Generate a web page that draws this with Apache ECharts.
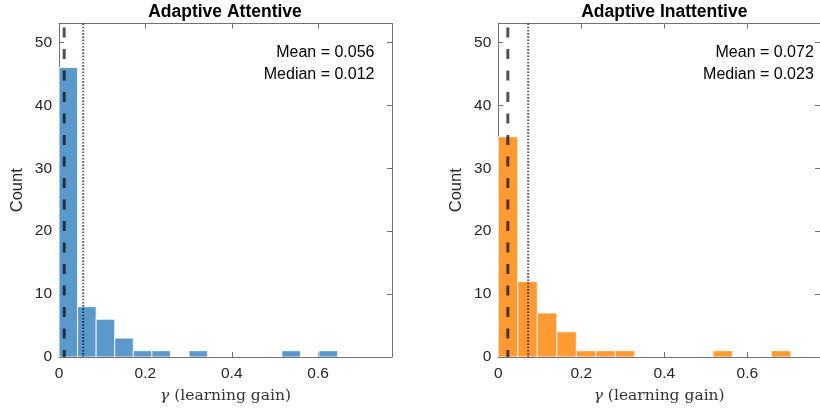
<!DOCTYPE html>
<html>
<head>
<meta charset="utf-8">
<script src="https://cdn.jsdelivr.net/npm/echarts@6/dist/echarts.min.js"></script>
<style>
  html, body { margin: 0; padding: 0; background: #fff; }
  #chart { width: 820px; height: 411px; }
</style>
</head>
<body>
<div id="chart"></div>
<script>
// Histogram counts per bin (bins start at 0, fixed width per panel)
const panelTitles = ['Adaptive Attentive', 'Adaptive Inattentive'];
const attentiveCounts = [46, 8, 6, 3, 1, 1, 0, 1, 0, 0, 0, 0, 1, 0, 1];
const inattentiveCounts = [35, 12, 7, 4, 1, 1, 1, 0, 0, 0, 0, 1, 0, 0, 1];
const attentiveBinWidth = 0.043;
const inattentiveBinWidth = 0.047;
const attentiveMean = 0.056;
const attentiveMedian = 0.012;
const inattentiveMean = 0.072;
const inattentiveMedian = 0.023;
const xTicks = [0, 0.2, 0.4, 0.6];
const yTicks = [0, 10, 20, 30, 40, 50];
const xMax = [0.771, 0.775];
const yMax = 53;

const SANS = '"Liberation Sans", Arial, Helvetica, sans-serif';
const SERIF = '"DejaVu Serif", "Liberation Serif", serif';
const AXIS_COLOR = '#707070';
const TEXT_COLOR = '#262626';

const panels = [
  { counts: attentiveCounts, width: attentiveBinWidth, mean: attentiveMean, median: attentiveMedian, color: '#5B99CC' },
  { counts: inattentiveCounts, width: inattentiveBinWidth, mean: inattentiveMean, median: inattentiveMedian, color: '#FF9A33' }
];

const gridLayout = [
  { left: 59, top: 23.5, width: 333, height: 333.5 },
  { left: 498.3, top: 23.5, width: 333, height: 333.5 }
];

function binData(counts, w) {
  return counts.map((c, i) => [i * w, (i + 1) * w, c]);
}

const xAxes = [], yAxes = [], series = [], graphics = [];

panels.forEach((p, k) => {
  const baseX = {
    type: 'value', gridIndex: k, min: 0, max: xMax[k],
    splitLine: { show: false },
    axisLine: { show: true, onZero: false, lineStyle: { color: AXIS_COLOR, width: 1 } },
    axisTick: { show: true, inside: true, length: 5, customValues: xTicks, lineStyle: { color: AXIS_COLOR } }
  };
  xAxes.push(Object.assign({}, baseX, {
    position: 'bottom',
    axisLabel: { show: true, customValues: xTicks, margin: 9, fontFamily: SANS, fontSize: 15.5, color: TEXT_COLOR,
      formatter: v => String(+v.toFixed(1)) },
    name: '{g|γ} (learning gain)',
    nameLocation: 'middle', nameGap: 31,
    nameTextStyle: { fontFamily: SERIF, fontSize: 15.5, color: '#333',
      rich: { g: { fontFamily: SERIF, fontSize: 15.5, fontStyle: 'italic', color: '#333' } } }
  }));
  xAxes.push(Object.assign({}, baseX, { position: 'top', axisLabel: { show: false } }));

  const baseY = {
    type: 'value', gridIndex: k, min: 0, max: yMax,
    splitLine: { show: false },
    axisLine: { show: true, onZero: false, lineStyle: { color: AXIS_COLOR, width: 1 } },
    axisTick: { show: true, inside: true, length: 5, customValues: yTicks, lineStyle: { color: AXIS_COLOR } }
  };
  yAxes.push(Object.assign({}, baseY, {
    position: 'left',
    axisLabel: { show: true, customValues: yTicks, margin: 7, fontFamily: SANS, fontSize: 15.5, color: TEXT_COLOR },
    name: 'Count', nameLocation: 'middle', nameGap: 33, nameRotate: 90,
    nameTextStyle: { fontFamily: SANS, fontSize: 16.5, color: TEXT_COLOR }
  }));
  yAxes.push(Object.assign({}, baseY, { position: 'right', axisLabel: { show: false } }));

  const xi = k * 2, yi = k * 2;

  series.push({
    type: 'custom', xAxisIndex: xi, yAxisIndex: yi, clip: true, z: 2,
    data: binData(p.counts, p.width),
    renderItem: (params, api) => {
      const c = api.value(2);
      if (!c) return null;
      const a = api.coord([api.value(0), c]);
      const b = api.coord([api.value(1), 0]);
      return {
        type: 'rect',
        shape: { x: a[0], y: a[1], width: b[0] - a[0], height: b[1] - a[1] },
        style: { fill: p.color, stroke: 'rgba(255,255,255,0.85)', lineWidth: 1 }
      };
    }
  });

  // median (dashed) and mean (dotted) reference lines
  series.push({
    type: 'line', xAxisIndex: xi, yAxisIndex: yi, z: 4, symbol: 'none', silent: true,
    data: [[p.median, yMax], [p.median, 0]],
    lineStyle: { color: 'rgba(0,0,0,0.68)', width: 3, type: [10, 11.5], dashOffset: 17.5 }
  });
  series.push({
    type: 'line', xAxisIndex: xi, yAxisIndex: yi, z: 4, symbol: 'none', silent: true,
    data: [[p.mean, yMax], [p.mean, 0]],
    lineStyle: { color: 'rgba(0,0,0,0.65)', width: 2, type: [1.6, 1.6] }
  });

  const g = gridLayout[k];
  graphics.push({
    type: 'text', x: g.left + g.width / 2 - 0.5, y: 12.5,
    style: { text: panelTitles[k], font: 'bold 17.5px ' + SANS, fill: '#000', align: 'center', verticalAlign: 'middle' }
  });
  const tx = g.left + 315.5;
  graphics.push({
    type: 'text', x: tx, y: 53,
    style: { text: 'Mean = ' + p.mean.toFixed(3), font: '16px ' + SANS, fill: '#000', align: 'right', verticalAlign: 'middle' }
  });
  graphics.push({
    type: 'text', x: tx, y: 75,
    style: { text: 'Median = ' + p.median.toFixed(3), font: '16px ' + SANS, fill: '#000', align: 'right', verticalAlign: 'middle' }
  });
});

const chart = echarts.init(document.getElementById('chart'), null, { renderer: 'canvas' });
chart.setOption({
  animation: false,
  backgroundColor: '#fff',
  grid: gridLayout.map(g => Object.assign({ containLabel: false, show: false }, g)),
  xAxis: xAxes,
  yAxis: yAxes,
  series: series,
  graphic: graphics
});
</script>
</body>
</html>
